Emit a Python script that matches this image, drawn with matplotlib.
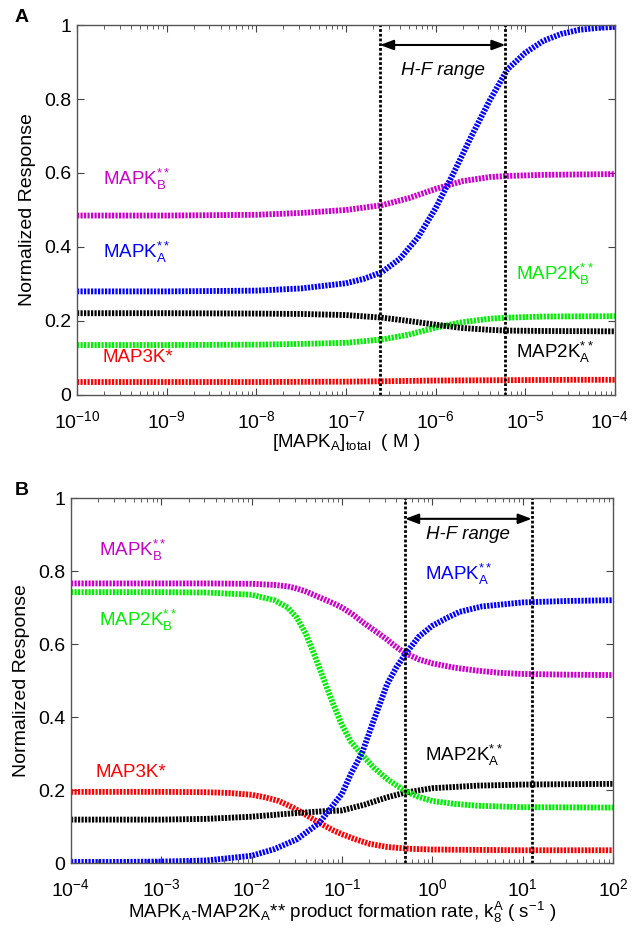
import numpy as np
import matplotlib
matplotlib.use("Agg")
import matplotlib.pyplot as plt
import matplotlib.transforms as mtransforms
from matplotlib.ticker import NullFormatter, LogLocator

plt.rcParams['font.family'] = ['Liberation Sans', 'DejaVu Sans']
plt.rcParams['mathtext.fontset'] = 'custom'
plt.rcParams['mathtext.rm'] = 'Liberation Sans'
plt.rcParams['mathtext.it'] = 'Liberation Sans:italic'
plt.rcParams['mathtext.bf'] = 'Liberation Sans:bold'

# ---------------- Panel A data (x = log10 [MAPK_A]_total, M) ----------------
a_x_blue = [-10, -9, -8, -7.5, -7, -6.8, -6.6, -6.4, -6.2, -6.0, -5.8, -5.6, -5.4, -5.2, -5.0, -4.8, -4.6, -4.4, -4.2, -4.0]
a_blue = [0.280, 0.280, 0.282, 0.288, 0.302, 0.314, 0.332, 0.368, 0.425, 0.505, 0.600, 0.700, 0.795, 0.880, 0.925, 0.957, 0.976, 0.987, 0.992, 0.995]

a_x_mag = [-10, -9, -8, -7.5, -7, -6.6, -6.3, -6.0, -5.7, -5.4, -5.2, -4.8, -4.0]
a_mag = [0.485, 0.485, 0.487, 0.492, 0.500, 0.513, 0.532, 0.557, 0.578, 0.589, 0.592, 0.595, 0.597]

a_x_blk = [-10, -9, -8, -7.5, -7, -6.6, -6.3, -6.0, -5.7, -5.4, -5.2, -4.8, -4.0]
a_blk = [0.221, 0.221, 0.220, 0.219, 0.216, 0.209, 0.200, 0.190, 0.181, 0.176, 0.174, 0.173, 0.172]

a_x_grn = [-10, -9, -8, -7.5, -7, -6.6, -6.3, -6.0, -5.7, -5.4, -5.2, -4.8, -4.0]
a_grn = [0.135, 0.135, 0.136, 0.138, 0.141, 0.150, 0.163, 0.182, 0.197, 0.206, 0.209, 0.212, 0.213]

a_x_red = [-10, -9, -8, -7, -6.6, -6, -5.2, -4.5, -4.0]
a_red = [0.035, 0.035, 0.035, 0.036, 0.037, 0.039, 0.040, 0.041, 0.041]

a_hf = [2.4e-7, 6.0e-6]
a_xticks = [1e-10, 1e-9, 1e-8, 1e-7, 1e-6, 1e-5, 1e-4]

# ---------------- Panel B data (x = log10 k8A, 1/s) ----------------
b_x_blue = [-4, -3.5, -3, -2.5, -2, -1.75, -1.5, -1.25, -1.0, -0.9, -0.78, -0.65, -0.5, -0.4, -0.3, -0.15, 0.0, 0.15, 0.3, 0.55, 1.0, 1.5, 2.0]
b_blue = [0.003, 0.003, 0.004, 0.007, 0.020, 0.038, 0.065, 0.110, 0.190, 0.245, 0.300, 0.390, 0.490, 0.535, 0.572, 0.620, 0.650, 0.670, 0.688, 0.703, 0.714, 0.718, 0.720]

b_x_mag = [-4, -3, -2.5, -2, -1.75, -1.6, -1.5, -1.4, -1.25, -1.1, -1.0, -0.875, -0.75, -0.6, -0.5, -0.4, -0.3, -0.15, 0.0, 0.25, 0.5, 0.75, 1.0, 1.5, 2.0]
b_mag = [0.766, 0.766, 0.766, 0.765, 0.762, 0.758, 0.752, 0.744, 0.728, 0.712, 0.700, 0.680, 0.656, 0.630, 0.612, 0.592, 0.575, 0.558, 0.547, 0.535, 0.527, 0.521, 0.518, 0.516, 0.515]

b_x_grn = [-4, -3, -2.5, -2, -1.75, -1.6, -1.5, -1.4, -1.3, -1.2, -1.1, -1.0, -0.9, -0.78, -0.65, -0.5, -0.3, -0.15, 0.0, 0.25, 0.5, 1.0, 2.0]
b_grn = [0.742, 0.742, 0.741, 0.735, 0.720, 0.700, 0.672, 0.628, 0.567, 0.502, 0.437, 0.378, 0.332, 0.297, 0.262, 0.230, 0.197, 0.181, 0.170, 0.162, 0.157, 0.153, 0.152]

b_x_red = [-4, -3, -2.5, -2.25, -2, -1.85, -1.7, -1.55, -1.4, -1.25, -1.1, -1.0, -0.85, -0.7, -0.5, -0.25, 0.0, 1.0, 2.0]
b_red = [0.195, 0.195, 0.194, 0.192, 0.187, 0.180, 0.170, 0.153, 0.132, 0.110, 0.090, 0.079, 0.065, 0.053, 0.044, 0.039, 0.037, 0.035, 0.035]

b_x_blk = [-4, -3, -2.5, -2, -1.5, -1.2, -1.0, -0.75, -0.5, -0.3, 0.0, 0.5, 1.0, 2.0]
b_blk = [0.119, 0.119, 0.121, 0.127, 0.137, 0.142, 0.144, 0.160, 0.180, 0.193, 0.205, 0.212, 0.215, 0.217]

b_hf = [0.5, 12.6]
b_xticks = [1e-4, 1e-3, 1e-2, 1e-1, 1e0, 1e1, 1e2]

y_ticks = [0, 0.2, 0.4, 0.6, 0.8, 1]
y_ticklabels = ['0', '0.2', '0.4', '0.6', '0.8', '1']

col_blue = '#0000ff'
col_mag = '#cc00cc'
col_grn = '#00ee00'
col_red = '#ff0000'
col_blk = '#000000'

LS = (0, (0.38, 0.22))
LW = 4.2


def style_axes(ax, xlim, xticks):
    ax.set_xscale('log')
    ax.set_xlim(*xlim)
    ax.set_xticks(xticks)
    ax.xaxis.set_minor_locator(LogLocator(base=10, subs=np.arange(2, 10)))
    ax.xaxis.set_minor_formatter(NullFormatter())
    ax.set_ylim(0, 1)
    ax.set_yticks(y_ticks)
    ax.set_yticklabels(y_ticklabels)
    ax.tick_params(which='both', direction='in', top=True, right=True,
                   labelsize=14, colors='#444444', labelcolor='black')
    ax.tick_params(which='major', length=5)
    ax.tick_params(which='minor', length=3)
    ax.tick_params(axis='x', which='both', pad=11)
    ax.tick_params(axis='y', which='both', pad=4)
    for s in ax.spines.values():
        s.set_color('#555555')
        s.set_linewidth(1.0)
    ax.set_ylabel('Normalized Response', fontsize=14, labelpad=6)


def curve(ax, xs, ys, c):
    ax.plot(10.0 ** np.array(xs), ys, color=c, lw=LW, ls=LS, solid_capstyle='butt', dash_capstyle='butt')


def hf(ax, xs, yarrow, ytext):
    for xv in xs:
        ax.axvline(xv, color='black', lw=2.0, ls=(0, (1.0, 0.7)))
    ax.annotate('', xy=(xs[1], yarrow), xytext=(xs[0], yarrow),
                arrowprops=dict(arrowstyle='<|-|>,head_length=0.8,head_width=0.3', color='black', lw=1.5,
                                shrinkA=0, shrinkB=0))
    xc = 10 ** ((np.log10(xs[0]) + np.log10(xs[1])) / 2)
    ax.text(xc, ytext, 'H-F range', style='italic', fontsize=13.5, ha='center', va='center')


def nudge_last_xlabel(fig, ax, dx_px):
    fig.canvas.draw()
    lbl = ax.get_xticklabels()[-1]
    lbl.set_transform(lbl.get_transform() + mtransforms.ScaledTranslation(dx_px / 100.0, 0, fig.dpi_scale_trans))


fig = plt.figure(figsize=(6.32, 9.30), dpi=100)

# ---------------- Panel A ----------------
axA = fig.add_axes([0.1218, 0.5753, 0.8513, 0.3978])
curve(axA, a_x_red, a_red, col_red)
curve(axA, a_x_grn, a_grn, col_grn)
curve(axA, a_x_blk, a_blk, col_blk)
curve(axA, a_x_mag, a_mag, col_mag)
curve(axA, a_x_blue, a_blue, col_blue)
style_axes(axA, (1e-10, 1e-4), a_xticks)
hf(axA, a_hf, 0.946, 0.878)
axA.set_xlabel(r'[MAPK$_{\mathregular{A}}$]$_{\mathregular{total}}$  ( M )', fontsize=13.5, labelpad=0)

lab_fs = 13.5
axA.text(10 ** -9.71, 0.582, r'MAPK$^{**}_{\mathregular{B}}$', color=col_mag, fontsize=lab_fs, va='center')
axA.text(10 ** -9.71, 0.385, r'MAPK$^{**}_{\mathregular{A}}$', color=col_blue, fontsize=lab_fs, va='center')
axA.text(10 ** -9.71, 0.102, r'MAP3K*', color=col_red, fontsize=lab_fs, va='center')
axA.text(10 ** -5.10, 0.326, r'MAP2K$^{**}_{\mathregular{B}}$', color=col_grn, fontsize=lab_fs, va='center')
axA.text(10 ** -5.10, 0.116, r'MAP2K$^{**}_{\mathregular{A}}$', color=col_blk, fontsize=lab_fs, va='center')

# ---------------- Panel B ----------------
axB = fig.add_axes([0.1123, 0.0720, 0.8576, 0.3925])
curve(axB, b_x_red, b_red, col_red)
curve(axB, b_x_blk, b_blk, col_blk)
curve(axB, b_x_grn, b_grn, col_grn)
curve(axB, b_x_mag, b_mag, col_mag)
curve(axB, b_x_blue, b_blue, col_blue)
style_axes(axB, (1e-4, 1e2), b_xticks)
hf(axB, b_hf, 0.943, 0.90)
axB.set_xlabel(r'MAPK$_{\mathregular{A}}$-MAP2K$_{\mathregular{A}}$** product formation rate, k$^{\mathregular{A}}_{\mathregular{8}}$ ( s$^{\mathregular{-1}}$ )',
               fontsize=13.5, labelpad=0)

axB.text(10 ** -3.69, 0.855, r'MAPK$^{**}_{\mathregular{B}}$', color=col_mag, fontsize=lab_fs, va='center')
axB.text(10 ** -3.69, 0.665, r'MAP2K$^{**}_{\mathregular{B}}$', color=col_grn, fontsize=lab_fs, va='center')
axB.text(10 ** -3.73, 0.248, r'MAP3K*', color=col_red, fontsize=lab_fs, va='center')
axB.text(10 ** -0.076, 0.79, r'MAPK$^{**}_{\mathregular{A}}$', color=col_blue, fontsize=lab_fs, va='center')
axB.text(10 ** -0.076, 0.294, r'MAP2K$^{**}_{\mathregular{A}}$', color=col_blk, fontsize=lab_fs, va='center')

fig.text(15 / 632, 1 - 17 / 930, 'A', fontsize=14, fontweight='bold', va='center', ha='left')
fig.text(15 / 632, 1 - 490 / 930, 'B', fontsize=14, fontweight='bold', va='center', ha='left')

nudge_last_xlabel(fig, axA, -6)

fig.savefig('out.png', dpi=100)
